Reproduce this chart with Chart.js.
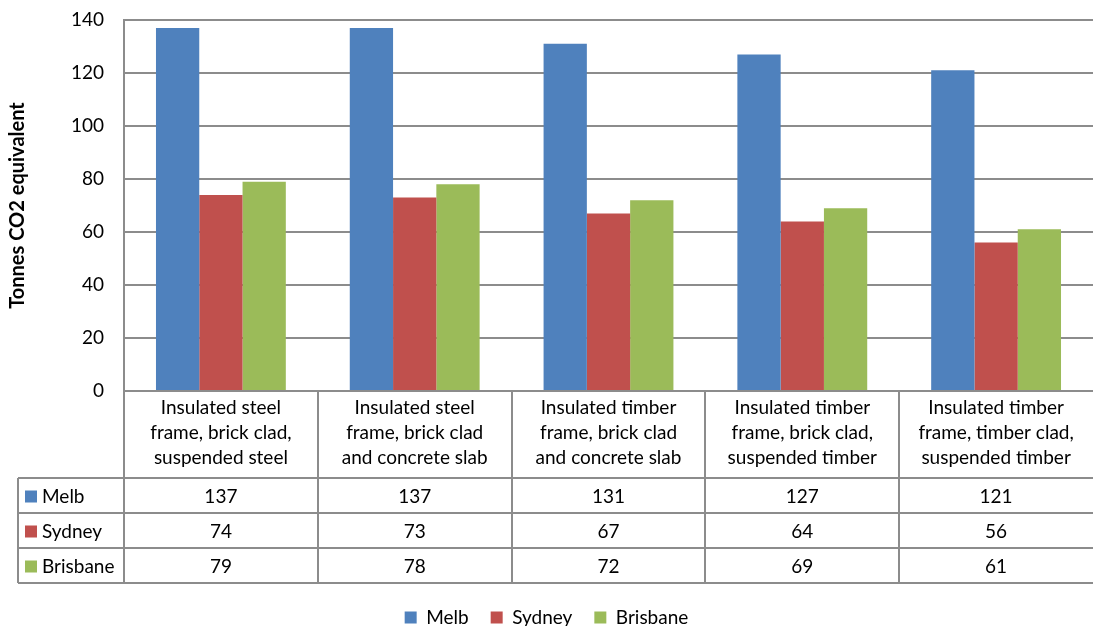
<!DOCTYPE html>
<html>
<head>
<meta charset="utf-8">
<script src="https://cdn.jsdelivr.net/npm/chart.js@4/dist/chart.umd.min.js"></script>
<style>
  html, body { margin: 0; padding: 0; background: #fff; }
  #wrap { width: 1094px; height: 626px; }
</style>
</head>
<body>
<div id="wrap"><canvas id="chart"></canvas></div>
<script>
// chart values
const categories = [
  ['Insulated steel', 'frame, brick clad,', 'suspended steel'],
  ['Insulated steel', 'frame, brick clad', 'and concrete slab'],
  ['Insulated timber', 'frame, brick clad', 'and concrete slab'],
  ['Insulated timber', 'frame, brick clad,', 'suspended timber'],
  ['Insulated timber', 'frame, timber clad,', 'suspended timber']
];
const melb = [137, 137, 131, 127, 121];
const sydney = [74, 73, 67, 64, 56];
const brisbane = [79, 78, 72, 69, 61];
const yTicks = [0, 20, 40, 60, 80, 100, 120, 140];

const FONT = 'Lato, "Liberation Sans", sans-serif';
const LINE = '#8c8c8c';

// draws the data table under the plot, lined up with the category scale
const dataTable = {
  id: 'dataTable',
  afterDraw(chart) {
    const ctx = chart.ctx;
    const area = chart.chartArea;
    const n = chart.data.labels.length;
    const colW = area.width / n;
    const top = area.bottom;
    const headerH = 87;
    const rowH = 35;
    const tableLeft = 18;
    const sets = chart.data.datasets;
    const bottom = top + headerH + rowH * sets.length;

    ctx.save();
    ctx.strokeStyle = LINE;
    ctx.lineWidth = 2;
    ctx.beginPath();
    // horizontals
    ctx.moveTo(area.left, top); ctx.lineTo(area.right, top);
    for (let r = 0; r <= sets.length; r++) {
      const y = top + headerH + rowH * r;
      ctx.moveTo(tableLeft, y); ctx.lineTo(area.right, y);
    }
    // verticals
    ctx.moveTo(tableLeft, top + headerH); ctx.lineTo(tableLeft, bottom);
    for (let i = 0; i < n; i++) {
      const x = Math.round(area.left + colW * i);
      ctx.moveTo(x, top); ctx.lineTo(x, bottom);
    }
    ctx.stroke();

    ctx.fillStyle = '#000';
    ctx.font = '19px ' + FONT;
    ctx.textAlign = 'center';
    ctx.textBaseline = 'middle';
    // header labels
    chart.data.labels.forEach((lines, i) => {
      const cx = chart.scales.x.getPixelForValue(i);
      lines.forEach((t, k) => {
        ctx.fillText(t, cx, top + 17 + k * 25);
      });
    });
    // rows
    sets.forEach((ds, r) => {
      const cy = top + headerH + rowH * r + rowH / 2 + 1;
      ctx.fillStyle = ds.backgroundColor;
      ctx.fillRect(tableLeft + 7, cy - 6, 12, 12);
      ctx.fillStyle = '#000';
      ctx.textAlign = 'left';
      ctx.fillText(ds.label, tableLeft + 24, cy);
      ctx.textAlign = 'center';
      ds.data.forEach((v, i) => {
        ctx.fillText(String(v), chart.scales.x.getPixelForValue(i), cy);
      });
    });
    ctx.restore();
  }
};

new Chart(document.getElementById('chart'), {
  type: 'bar',
  data: {
    labels: categories,
    datasets: [
      { label: 'Melb', data: melb, backgroundColor: '#4F81BD' },
      { label: 'Sydney', data: sydney, backgroundColor: '#C0504D' },
      { label: 'Brisbane', data: brisbane, backgroundColor: '#9BBB59' }
    ]
  },
  options: {
    responsive: true,
    maintainAspectRatio: false,
    animation: false,
    layout: { padding: { top: 0, right: 1, left: 0, bottom: -11 } },
    datasets: {
      bar: { categoryPercentage: 0.67, barPercentage: 1.0, borderWidth: 0 }
    },
    plugins: {
      tooltip: { enabled: false },
      legend: {
        position: 'bottom',
        labels: {
          font: { family: FONT, size: 19 },
          color: '#000',
          boxWidth: 12,
          boxHeight: 12,
          padding: 22
        }
      }
    },
    scales: {
      x: {
        ticks: { display: false },
        grid: { display: false },
        border: { display: false },
        afterFit(s) { s.height = 195; }
      },
      y: {
        min: 0,
        max: 140,
        afterBuildTicks(s) { s.ticks = yTicks.map(v => ({ value: v })); },
        ticks: {
          font: { family: FONT, size: 19 },
          color: '#000',
          padding: 20
        },
        grid: { color: LINE, lineWidth: 2, drawTicks: false },
        border: { display: true, color: LINE, width: 2 },
        title: {
          display: true,
          text: 'Tonnes CO2 equivalent',
          font: { family: FONT, size: 20, weight: 'bold' },
          color: '#000',
          padding: { top: 6, bottom: 0 }
        },
        afterFit(s) {
          s.width = 124;
          s.paddingTop = 20;
          s.paddingBottom = 10;
        }
      }
    }
  },
  plugins: [dataTable]
});
</script>
</body>
</html>
